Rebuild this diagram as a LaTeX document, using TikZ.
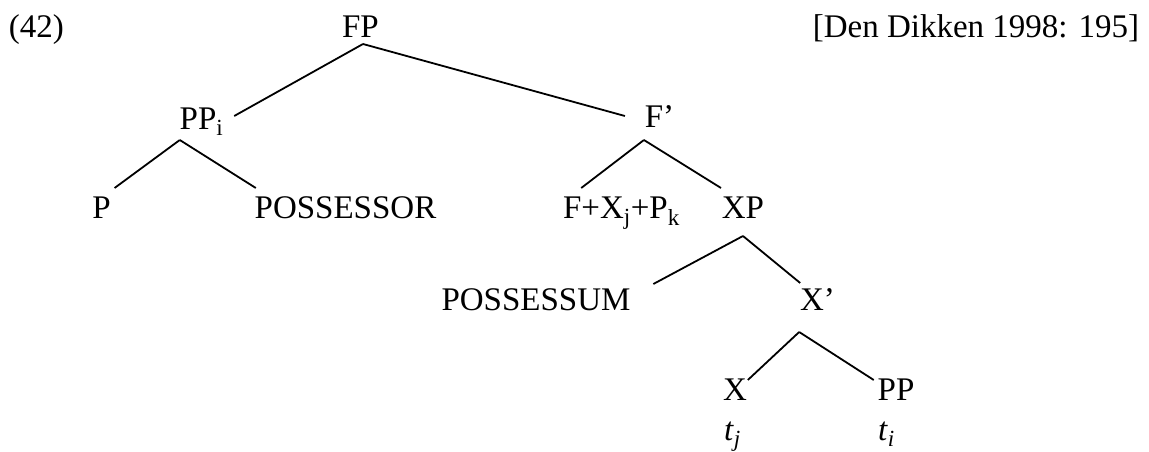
\documentclass[tikz,border=0pt]{standalone}
\usepackage{fontspec}
\setmainfont{Liberation Serif}
\usetikzlibrary{calc}

\begin{document}
\begin{tikzpicture}[x=1pt, y=-1pt, line width=1.8pt,
    lab/.style={inner sep=0pt, anchor=base, font=\fontsize{33}{40}\selectfont}]
    \useasboundingbox (0,0) rectangle (1149,452);

    % labels, placed at their baselines
    \node[lab, anchor=base west] (num) at (8,38) {(42)};
    \node[lab] (FP) at (360.5,38) {FP};
    \node[lab, anchor=base east] (src) at (1140,38) {[Den Dikken 1998: 195]};
    \node[lab] (PPi) at (201.5,129) {PP\textsubscript{i}};
    \node[lab] (Fbar) at (659.5,128) {F'};
    \node[lab] (P) at (101.5,218) {P};
    \node[lab] (POSSESSOR) at (345.5,218) {POSSESSOR};
    \node[lab] (FXP) at (621.5,218) {F+X\textsubscript{j}+P\textsubscript{k}};
    \node[lab] (XP) at (743,218) {XP};
    \node[lab] (POSSESSUM) at (536,310) {POSSESSUM};
    \node[lab] (Xbar) at (817.5,310) {X'};
    \node[lab] (X) at (735,400) {X};
    \node[lab] (PP) at (896,400) {PP};
    \node[lab] (tj) at (732.5,440) {\textit{t}\textsubscript{\textit{j}}};
    \node[lab] (ti) at (886.5,440) {\textit{t}\textsubscript{\textit{i}}};

    % branches
    \draw ($(FP.base)+(2.5,6)$) -- ($(PPi.base east)+(10,-13)$);
    \draw ($(FP.base)+(2.5,6)$) -- ($(Fbar.base west)+(-19,-12)$);
    \draw ($(PPi.base west)+(1,11)$) -- ($(P.base east)+(3,-30)$);
    \draw ($(PPi.base west)+(1,11)$) -- ($(POSSESSOR.base west)+(2,-30)$);
    \draw ($(Fbar.base west)+(0,12)$) -- ($(FXP.base west)+(19,-30)$);
    \draw ($(Fbar.base west)+(0,12)$) -- ($(XP.base west)+(0,-30)$);
    \draw ($(XP.base)+(0,18)$) -- ($(POSSESSUM.base east)+(22,-26)$);
    \draw ($(XP.base)+(0,18)$) -- ($(Xbar.base west)+(1,-27)$);
    \draw ($(Xbar.base west)+(0,22)$) -- ($(X.base east)+(0,-20)$);
    \draw ($(Xbar.base west)+(0,22)$) -- ($(PP.base west)+(-3,-20)$);
\end{tikzpicture}
\end{document}
